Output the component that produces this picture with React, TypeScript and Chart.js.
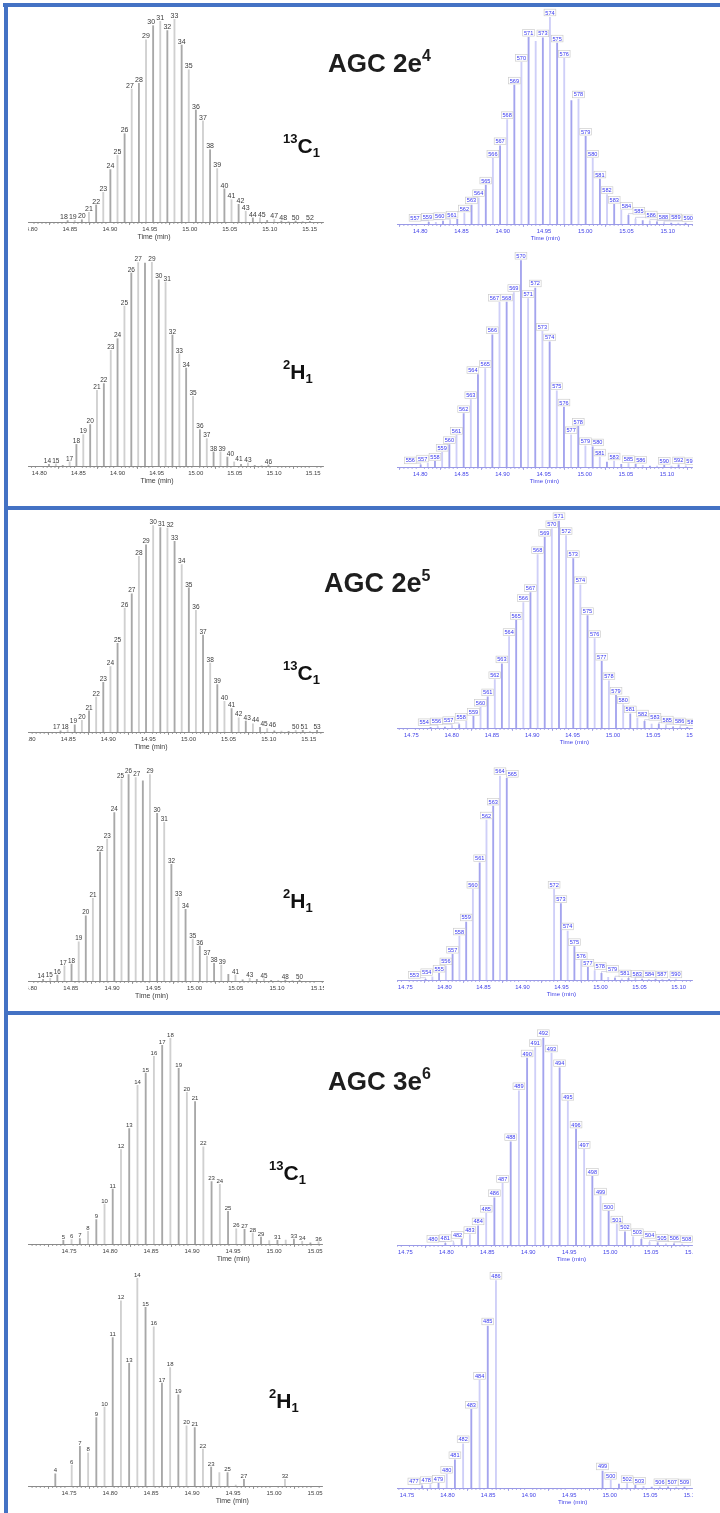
import React, { useEffect, useRef } from 'react';
import { Chart, registerables } from 'chart.js';

Chart.register(...registerables);

const FONT = '"Liberation Sans", Arial, Helvetica, sans-serif';
Chart.defaults.font.family = FONT;

// ---------------- DATA ----------------
// AGC 2e4, 13C1 (left)
const p1Scans = [18,19,20,21,22,23,24,25,26,27,28,29,30,31,32,33,34,35,36,37,38,39,40,41,42,43,44,45,46,47,48,49,50,51,52];
const p1Times = [14.8471,14.8560,14.8649,14.8738,14.8828,14.8917,14.9006,14.9095,14.9184,14.9273,14.9363,14.9452,14.9541,14.9630,14.9719,14.9808,14.9898,14.9987,15.0076,15.0165,15.0254,15.0343,15.0433,15.0522,15.0611,15.0700,15.0789,15.0878,15.0968,15.1057,15.1146,15.1235,15.1324,15.1413,15.1503];
const p1Abund = [0.7,0.8,1.1,4.8,8.4,14.6,25.8,32.8,43.5,65.5,68.3,89.8,96.7,98.9,94.3,100,87.2,75.0,55.2,49.8,35.6,26.3,16.3,11.0,8.7,5.3,2.0,2.0,0.8,1.3,0.5,0.3,0.5,0.3,0.3];
const p1Hidden = [46,49,51];
const p1Ticks = [14.80,14.85,14.90,14.95,15.00,15.05,15.10,15.15];

// AGC 2e4, 13C1 (right)
const p2Scans = [557,558,559,560,561,562,563,564,565,566,567,568,569,570,571,572,573,574,575,576,577,578,579,580,581,582,583,584,585,586,587,588,589,590,591,592,593];
const p2Times = [14.8102,14.8188,14.8275,14.8361,14.8448,14.8534,14.8621,14.8707,14.8794,14.8880,14.8967,14.9053,14.9140,14.9226,14.9313,14.9399,14.9486,14.9572,14.9659,14.9745,14.9832,14.9918,15.0005,15.0091,15.0178,15.0264,15.0351,15.0437,15.0524,15.0610,15.0697,15.0783,15.0870,15.0956,15.1043,15.1129,15.1216];
const p2Abund = [0.8,0.8,1.3,1.6,2.3,5.3,9.2,12.7,18.8,31.7,37.8,50.4,67.1,78.1,90.2,88.2,89.9,100,87.4,80.0,59.6,60.4,42.4,31.7,21.7,14.2,9.5,6.6,4.2,2.4,1.6,1.3,1.0,0.6,0.5,0.5,0.5];
const p2Hidden = [558,572,577,587,591,592,593];
const p2Ticks = [14.80,14.85,14.90,14.95,15.00,15.05,15.10];

// AGC 2e4, 2H1 (left)
const p3Scans = [14,15,16,17,18,19,20,21,22,23,24,25,26,27,28,29,30,31,32,33,34,35,36,37,38,39,40,41,42,43,44,45,46];
const p3Times = [14.8123,14.8211,14.8299,14.8387,14.8474,14.8562,14.8650,14.8737,14.8825,14.8913,14.9000,14.9088,14.9176,14.9264,14.9351,14.9439,14.9527,14.9614,14.9702,14.9790,14.9877,14.9965,15.0053,15.0141,15.0228,15.0316,15.0404,15.0491,15.0579,15.0667,15.0754,15.0842,15.0930];
const p3Abund = [0.8,1.0,0.3,2.0,10.6,15.4,20.3,37.1,40.4,56.7,62.4,78.4,94.6,99.7,99.5,100,91.3,90.2,64.2,54.9,48.0,34.2,17.8,13.4,6.9,6.9,4.4,2.0,0.8,1.5,0.3,0.3,0.5];
const p3Hidden = [16,28,42,44,45];
const p3Ticks = [14.80,14.85,14.90,14.95,15.00,15.05,15.10,15.15];

// AGC 2e4, 2H1 (right)
const p4Scans = [556,557,558,559,560,561,562,563,564,565,566,567,568,569,570,571,572,573,574,575,576,577,578,579,580,581,582,583,584,585,586,587,588,589,590,591,592,593];
const p4Times = [14.8004,14.8091,14.8178,14.8265,14.8353,14.8440,14.8527,14.8614,14.8701,14.8789,14.8876,14.8963,14.9050,14.9137,14.9224,14.9311,14.9398,14.9485,14.9573,14.9660,14.9747,14.9834,14.9921,15.0008,15.0096,15.0183,15.0270,15.0357,15.0444,15.0532,15.0619,15.0706,15.0793,15.0880,15.0967,15.1055,15.1142,15.1229];
const p4Abund = [1.0,1.9,2.7,7.1,10.8,15.3,25.8,32.6,44.7,47.6,64.0,79.7,79.8,84.4,100,81.5,86.6,65.6,60.5,36.9,29.0,15.6,19.7,10.3,9.7,4.8,2.4,2.9,1.3,1.6,1.3,0.8,0.5,0.5,0.8,0.5,1.0,0.6];
const p4Hidden = [582,584,587,588,589,591];
const p4Ticks = [14.80,14.85,14.90,14.95,15.00,15.05,15.10];

// AGC 2e5, 13C1 (left)
const p5Scans = [17,18,19,20,21,22,23,24,25,26,27,28,29,30,31,32,33,34,35,36,37,38,39,40,41,42,43,44,45,46,47,48,49,50,51,52,53];
const p5Times = [14.8404,14.8493,14.8581,14.8670,14.8759,14.8848,14.8937,14.9026,14.9115,14.9204,14.9292,14.9381,14.9470,14.9559,14.9648,14.9737,14.9826,14.9915,15.0004,15.0092,15.0181,15.0270,15.0359,15.0448,15.0537,15.0626,15.0714,15.0803,15.0892,15.0981,15.1070,15.1159,15.1248,15.1337,15.1425,15.1514,15.1603];
const p5Abund = [0.6,1.0,3.5,5.6,10.2,16.9,24.0,31.6,42.9,60.0,66.9,85.0,90.6,100,98.9,98.7,92.3,81.0,69.7,58.9,46.9,33.4,22.9,14.8,11.3,6.9,5.3,4.0,2.3,1.6,0.6,0.5,0.3,0.8,0.8,0.3,0.8];
const p5Hidden = [47,48,49,52];
const p5Ticks = [14.80,14.85,14.90,14.95,15.00,15.05,15.10,15.15];

// AGC 2e5, 13C1 (right)
const p6Scans = [553,554,555,556,557,558,559,560,561,562,563,564,565,566,567,568,569,570,571,572,573,574,575,576,577,578,579,580,581,582,583,584,585,586,587,588,589];
const p6Times = [14.7739,14.7828,14.7916,14.8005,14.8093,14.8181,14.8270,14.8358,14.8447,14.8535,14.8623,14.8712,14.8800,14.8889,14.8977,14.9066,14.9154,14.9242,14.9331,14.9419,14.9508,14.9596,14.9685,14.9773,14.9861,14.9950,15.0038,15.0127,15.0215,15.0303,15.0392,15.0480,15.0569,15.0657,15.0746,15.0834,15.0922];
const p6Abund = [0.3,0.6,0.5,1.0,1.6,3.2,5.6,10.0,15.0,23.3,30.9,44.1,51.9,60.5,65.3,83.6,92.0,96.1,100,92.8,81.7,69.1,54.2,43.1,32.2,22.8,15.8,11.3,6.8,4.8,3.2,1.9,1.9,1.0,0.6,0.5,0.3];
const p6Hidden = [553,555,584,587,589];
const p6Ticks = [14.75,14.80,14.85,14.90,14.95,15.00,15.05,15.10];

// AGC 2e5, 2H1 (left)
const p7Scans = [14,15,16,17,18,19,20,21,22,23,24,25,26,27,28,29,30,31,32,33,34,35,36,37,38,39,40,41,42,43,44,45,46,47,48,49,50];
const p7Times = [14.8163,14.8249,14.8336,14.8422,14.8508,14.8595,14.8681,14.8767,14.8854,14.8940,14.9027,14.9114,14.9200,14.9286,14.9373,14.9459,14.9546,14.9632,14.9719,14.9805,14.9891,14.9978,15.0064,15.0151,15.0237,15.0324,15.0410,15.0496,15.0583,15.0669,15.0756,15.0842,15.0929,15.1015,15.1101,15.1188,15.1274];
const p7Abund = [0.8,1.3,2.9,7.3,8.2,19.0,31.5,40.0,62.4,68.7,81.5,97.7,100,98.4,96.8,100,81.1,76.8,56.5,40.5,34.7,20.3,16.9,12.1,8.5,7.7,3.2,2.9,0.6,1.3,0.8,1.0,0.3,0.3,0.5,0.3,0.5];
const p7Hidden = [28,40,42,44,46,47,49];
const p7Ticks = [14.80,14.85,14.90,14.95,15.00,15.05,15.10,15.15];

// AGC 2e5, 2H1 (right)
const p8Scans = [553,554,555,556,557,558,559,560,561,562,563,564,565,572,573,574,575,576,577,578,579,580,581,582,583,584,585,586,587,588,589,590];
const p8Times = [14.7759,14.7846,14.7932,14.8019,14.8105,14.8192,14.8279,14.8365,14.8452,14.8539,14.8625,14.8712,14.8799,14.9405,14.9492,14.9579,14.9665,14.9752,14.9838,14.9925,15.0012,15.0098,15.0185,15.0272,15.0358,15.0445,15.0532,15.0618,15.0705,15.0791,15.0878,15.0965];
const p8Abund = [0.3,1.6,3.3,6.9,12.6,21.5,28.4,44.4,57.4,78.3,85.1,100,98.7,44.4,37.4,24.0,16.3,9.5,6.2,4.6,3.3,1.3,1.0,0.6,0.8,0.6,0.5,0.3,0.5,0.3,0.3,0.5];
const p8Hidden = [580,582,585,586,588,589];
const p8Ticks = [14.75,14.80,14.85,14.90,14.95,15.00,15.05,15.10];

// AGC 3e6, 13C1 (left)
const p9Scans = [5,6,7,8,9,10,11,12,13,14,15,16,17,18,19,20,21,22,23,24,25,26,27,28,29,30,31,32,33,34,35,36];
const p9Times = [14.7431,14.7531,14.7632,14.7732,14.7833,14.7933,14.8033,14.8134,14.8234,14.8335,14.8435,14.8535,14.8636,14.8736,14.8837,14.8937,14.9037,14.9138,14.9238,14.9339,14.9439,14.9539,14.9640,14.9740,14.9841,14.9941,15.0041,15.0142,15.0242,15.0343,15.0443,15.0543];
const p9Abund = [1.8,2.1,2.6,6.1,11.8,19.4,26.7,45.8,56.0,77.0,83.0,91.1,96.4,100,85.3,73.6,69.1,47.2,30.3,29.0,15.9,7.4,7.1,5.3,3.4,1.6,1.8,1.9,2.4,1.3,0.6,1.0];
const p9Hidden = [30,32,35];
const p9Ticks = [14.75,14.80,14.85,14.90,14.95,15.00,15.05];

// AGC 3e6, 13C1 (right)
const p10Scans = [480,481,482,483,484,485,486,487,488,489,490,491,492,493,494,495,496,497,498,499,500,501,502,503,504,505,506,507,508,509];
const p10Times = [14.7988,14.8088,14.8187,14.8287,14.8387,14.8486,14.8586,14.8686,14.8785,14.8885,14.8985,14.9084,14.9183,14.9283,14.9382,14.9482,14.9582,14.9681,14.9781,14.9881,14.9980,15.0080,15.0179,15.0279,15.0379,15.0478,15.0578,15.0678,15.0777,15.0877];
const p10Abund = [0.8,1.1,2.7,5.0,9.2,15.3,22.8,29.7,49.8,74.4,90.2,95.2,100,92.6,85.5,69.3,55.9,46.1,33.1,23.6,16.2,10.1,6.4,4.0,2.7,1.3,1.0,0.6,0.6,0.5];
const p10Hidden = [507,509];
const p10Ticks = [14.75,14.80,14.85,14.90,14.95,15.00,15.05,15.10];

// AGC 3e6, 2H1 (left)
const p11Scans = [4,6,7,8,9,10,11,12,13,14,15,16,17,18,19,20,21,22,23,24,25,26,27,32];
const p11Times = [14.7333,14.7533,14.7633,14.7733,14.7833,14.7933,14.8033,14.8133,14.8233,14.8333,14.8433,14.8533,14.8633,14.8733,14.8833,14.8933,14.9033,14.9133,14.9233,14.9333,14.9433,14.9533,14.9633,15.0133];
const p11Abund = [5.9,10.1,19.1,16.0,32.9,38.0,71.3,89.0,59.0,100,85.9,76.5,49.5,56.9,43.8,28.9,28.1,17.8,9.1,6.4,6.4,0.5,3.2,3.2];
const p11Hidden = [24,26];
const p11Ticks = [14.75,14.80,14.85,14.90,14.95,15.00,15.05];

// AGC 3e6, 2H1 (right)
const p12Scans = [477,478,479,480,481,482,483,484,485,486,499,500,501,502,503,504,505,506,507,508,509];
const p12Times = [14.7687,14.7788,14.7889,14.7990,14.8091,14.8192,14.8293,14.8395,14.8496,14.8597,14.9911,15.0012,15.0113,15.0214,15.0315,15.0416,15.0517,15.0618,15.0719,15.0820,15.0921];
const p12Abund = [1.0,1.6,2.2,6.6,13.6,21.3,37.9,51.8,78.0,100,8.2,3.7,1.9,2.1,1.3,0.8,0.5,0.6,0.6,0.5,0.5];
const p12Hidden = [501,504,505,508];
const p12Ticks = [14.75,14.80,14.85,14.90,14.95,15.00,15.05,15.10];

// ---------------- LAYOUT / STYLE ----------------
type Geom = { left: number; right: number; axisY: number; topY: number; xMin: number; xMax: number; titleX: number };
type PanelDef = {
  scans: number[]; times: number[]; abund: number[]; hidden: number[]; ticks: number[];
  g: Geom; side: 'L' | 'R'; labelSize: number;
};

const PANELS: PanelDef[] = [
  { scans: p1Scans, times: p1Times, abund: p1Abund, hidden: p1Hidden, ticks: p1Ticks, side: 'L', labelSize: 7,
    g: { left: 28, right: 323, axisY: 222.3, topY: 19.3, xMin: 14.7975, xMax: 15.1667, titleX: 154 } },
  { scans: p2Scans, times: p2Times, abund: p2Abund, hidden: p2Hidden, ticks: p2Ticks, side: 'R', labelSize: 5.6,
    g: { left: 396.7, right: 692.3, axisY: 224.3, topY: 17.3, xMin: 14.7717, xMax: 15.1302, titleX: 545 } },
  { scans: p3Scans, times: p3Times, abund: p3Abund, hidden: p3Hidden, ticks: p3Ticks, side: 'L', labelSize: 6.5,
    g: { left: 28, right: 323, axisY: 465.7, topY: 261.7, xMin: 14.7855, xMax: 15.1627, titleX: 157 } },
  { scans: p4Scans, times: p4Times, abund: p4Abund, hidden: p4Hidden, ticks: p4Ticks, side: 'R', labelSize: 5.6,
    g: { left: 396.7, right: 692.3, axisY: 467.3, topY: 260.6, xMin: 14.7716, xMax: 15.1312, titleX: 544 } },
  { scans: p5Scans, times: p5Times, abund: p5Abund, hidden: p5Hidden, ticks: p5Ticks, side: 'L', labelSize: 6.5,
    g: { left: 28, right: 323, axisY: 731.7, topY: 525, xMin: 14.7998, xMax: 15.1677, titleX: 151 } },
  { scans: p6Scans, times: p6Times, abund: p6Abund, hidden: p6Hidden, ticks: p6Ticks, side: 'R', labelSize: 5.6,
    g: { left: 396.7, right: 692.3, axisY: 728.3, topY: 521, xMin: 14.7322, xMax: 15.0988, titleX: 574 } },
  { scans: p7Scans, times: p7Times, abund: p7Abund, hidden: p7Hidden, ticks: p7Ticks, side: 'L', labelSize: 6.3,
    g: { left: 28, right: 323, axisY: 981, topY: 774.3, xMin: 14.798, xMax: 15.1558, titleX: 151.7 } },
  { scans: p8Scans, times: p8Times, abund: p8Abund, hidden: p8Hidden, ticks: p8Ticks, side: 'R', labelSize: 5.6,
    g: { left: 396.7, right: 692.3, axisY: 980, topY: 775.7, xMin: 14.7393, xMax: 15.1179, titleX: 561 } },
  { scans: p9Scans, times: p9Times, abund: p9Abund, hidden: p9Hidden, ticks: p9Ticks, side: 'L', labelSize: 6,
    g: { left: 28, right: 322.7, axisY: 1244.3, topY: 1038.3, xMin: 14.70, xMax: 15.0593, titleX: 233.3 } },
  { scans: p10Scans, times: p10Times, abund: p10Abund, hidden: p10Hidden, ticks: p10Ticks, side: 'R', labelSize: 5.6,
    g: { left: 396.7, right: 692.3, axisY: 1245, topY: 1037.7, xMin: 14.7398, xMax: 15.1004, titleX: 571 } },
  { scans: p11Scans, times: p11Times, abund: p11Abund, hidden: p11Hidden, ticks: p11Ticks, side: 'L', labelSize: 6,
    g: { left: 28, right: 322.7, axisY: 1485.7, topY: 1277.7, xMin: 14.70, xMax: 15.0593, titleX: 232.3 } },
  { scans: p12Scans, times: p12Times, abund: p12Abund, hidden: p12Hidden, ticks: p12Ticks, side: 'R', labelSize: 5.6,
    g: { left: 396.7, right: 692.3, axisY: 1487.7, topY: 1280, xMin: 14.7377, xMax: 15.1021, titleX: 572.3 } },
];

const STYLE = {
  L: { barA: '#a8a8a8', barB: '#d0d0d0', axis: '#8a8a8a', tick: '#404040', label: '#3a3a3a', title: '#404040', tickFont: 6, titleFont: 7 },
  R: { barA: '#a4a4ee', barB: '#cfcff8', axis: '#9a9ae6', tick: '#4545e8', label: '#3838f0', title: '#4545e8', tickFont: 5.8, titleFont: 6.2 },
};

const PADL = 30;
const PADT = 14;
const AXH = 22;

function Panel({ def }: { def: PanelDef }) {
  const ref = useRef<HTMLCanvasElement | null>(null);
  const g = def.g;
  const st = STYLE[def.side];
  const plotW = g.right - g.left;
  const plotH = g.axisY - g.topY;
  const cw = Math.ceil(plotW + PADL + 30);
  const ch = Math.ceil(plotH + PADT + AXH);
  const padR = cw - PADL - plotW;
  const padT = ch - AXH - plotH;
  const canvasTop = g.topY - padT;

  useEffect(() => {
    if (!ref.current) return;
    const labelPlugin = {
      id: 'scanLabels',
      afterDatasetsDraw(chart: any) {
        const ctx = chart.ctx;
        const meta = chart.getDatasetMeta(0);
        const n = def.scans.length;
        let peak = 0;
        for (let i = 1; i < n; i++) if (def.abund[i] > def.abund[peak]) peak = i;
        const order: number[] = [peak];
        for (let i = peak - 1; i >= 0; i--) order.push(i);
        for (let i = peak + 1; i < n; i++) order.push(i);
        const boxed = def.side === 'R';
        ctx.save();
        ctx.font = `${def.labelSize}px ${FONT}`;
        ctx.textAlign = 'center';
        ctx.textBaseline = 'alphabetic';
        const placed: { l: number; r: number; t: number; b: number }[] = [];
        for (const i of order) {
          if (def.hidden.includes(def.scans[i])) continue;
          const el = meta.data[i];
          if (!el) continue;
          const bx = el.x;
          const by = el.y;
          const txt = String(def.scans[i]);
          const tw = ctx.measureText(txt).width;
          const w = tw + (boxed ? 2.4 : 0.6);
          const digitH = def.labelSize * 0.72;
          const h = digitH + (boxed ? 2.6 : 0.8);
          const bottom = by - (boxed ? 1.2 : 1.0);
          const top = bottom - h;
          let cx = bx;
          const dir = i < peak ? -1 : 1;
          for (let k = 0; k < 60; k++) {
            const hit = placed.find(p => cx - w / 2 < p.r && cx + w / 2 > p.l && top < p.b && bottom > p.t);
            if (!hit) break;
            cx = dir < 0 ? hit.l - 0.6 - w / 2 : hit.r + 0.6 + w / 2;
          }
          placed.push({ l: cx - w / 2, r: cx + w / 2, t: top, b: bottom });
          if (boxed) {
            if (Math.abs(cx - bx) > w / 2 + 0.5) {
              ctx.strokeStyle = '#b8b8d8';
              ctx.lineWidth = 0.6;
              ctx.beginPath();
              const ex = cx < bx ? cx + w / 2 : cx - w / 2;
              ctx.moveTo(ex, bottom - 0.5);
              ctx.lineTo(bx, bottom - 0.5);
              ctx.lineTo(bx, by);
              ctx.stroke();
            }
            ctx.fillStyle = '#ffffff';
            ctx.fillRect(cx - w / 2, top, w, h);
            ctx.strokeStyle = '#c6c6c6';
            ctx.lineWidth = 0.6;
            ctx.strokeRect(cx - w / 2, top, w, h);
            ctx.fillStyle = st.label;
            ctx.fillText(txt, cx, bottom - 1.3);
          } else {
            ctx.fillStyle = st.label;
            ctx.fillText(txt, cx, bottom - 0.4);
          }
        }
        ctx.restore();
      },
    };
    const axisExtras = {
      id: 'axisExtras',
      afterDraw(chart: any) {
        const ctx = chart.ctx;
        const s = chart.scales.x;
        const y0 = chart.chartArea.bottom;
        ctx.save();
        ctx.strokeStyle = st.axis;
        ctx.lineWidth = 0.8;
        ctx.beginPath();
        const k0 = Math.ceil(g.xMin / 0.005 - 1e-6);
        for (let k = k0; k * 0.005 <= g.xMax + 1e-9; k++) {
          if (k % 10 === 0) continue;
          const px = s.getPixelForValue(k * 0.005);
          ctx.moveTo(px, y0);
          ctx.lineTo(px, y0 + 2);
        }
        ctx.stroke();
        ctx.fillStyle = st.title;
        ctx.font = `${st.titleFont}px ${FONT}`;
        ctx.textAlign = 'center';
        ctx.textBaseline = 'middle';
        ctx.fillText('Time (min)', g.titleX - g.left + PADL, y0 + 14.6);
        ctx.restore();
      },
    };
    const chart = new Chart(ref.current, {
      type: 'bar',
      data: {
        datasets: [
          {
            data: def.times.map((t, i) => ({ x: t, y: def.abund[i] })),
            backgroundColor: (c: any) => (c.dataIndex % 2 ? st.barB : st.barA),
            borderWidth: 0,
            barThickness: 1.2,
          } as any,
        ],
      },
      options: {
        responsive: false,
        animation: false,
        devicePixelRatio: 1,
        events: [],
        layout: { padding: { left: PADL, right: padR, top: padT, bottom: 0 } },
        plugins: { legend: { display: false }, tooltip: { enabled: false }, title: { display: false } },
        scales: {
          x: {
            type: 'linear',
            min: g.xMin,
            max: g.xMax,
            bounds: 'data',
            offset: false,
            afterBuildTicks: (s: any) => {
              s.ticks = def.ticks.map(v => ({ value: v }));
            },
            afterFit: (s: any) => {
              s.height = AXH;
            },
            grid: { drawOnChartArea: false, drawTicks: true, tickLength: 3, color: st.axis, lineWidth: 0.8 },
            border: { display: true, color: st.axis, width: 1 },
            ticks: {
              font: { family: FONT, size: st.tickFont },
              color: st.tick,
              padding: 1,
              maxRotation: 0,
              minRotation: 0,
              autoSkip: false,
              callback: (v: any) => Number(v).toFixed(2),
            },
            title: { display: false },
          } as any,
          y: { display: false, min: 0, max: 100 },
        },
      },
      plugins: [labelPlugin, axisExtras],
    });
    return () => chart.destroy();
  }, []);

  return (
    <div
      style={{
        position: 'absolute',
        left: g.left,
        top: canvasTop,
        width: plotW + 0.6,
        height: ch,
        overflow: 'hidden',
      }}
    >
      <canvas
        ref={ref}
        width={cw}
        height={ch}
        style={{ position: 'absolute', left: -PADL, top: 0, width: cw, height: ch }}
      />
    </div>
  );
}

function Agc({ left, base, size, text, sup }: { left: number; base: number; size: number; text: string; sup: string }) {
  return (
    <div
      style={{
        position: 'absolute',
        left,
        top: base - 0.8465 * size,
        fontFamily: FONT,
        fontWeight: 700,
        fontSize: size,
        lineHeight: `${size}px`,
        color: '#1e1e1e',
        whiteSpace: 'nowrap',
      }}
    >
      {text}
      <span style={{ fontSize: 16, position: 'relative', top: -11 }}>{sup}</span>
    </div>
  );
}

function Iso({ left, base, sup, main, sub }: { left: number; base: number; sup: string; main: string; sub: string }) {
  const size = 21;
  return (
    <div
      style={{
        position: 'absolute',
        left,
        top: base - 0.8465 * size,
        fontFamily: FONT,
        fontWeight: 700,
        fontSize: size,
        lineHeight: `${size}px`,
        color: '#111111',
        whiteSpace: 'nowrap',
      }}
    >
      <span style={{ fontSize: 13, position: 'relative', top: -10 }}>{sup}</span>
      {main}
      <span style={{ fontSize: 13, position: 'relative', top: 4 }}>{sub}</span>
    </div>
  );
}

const BLUE = '#4472c4';

export default function App() {
  const bar = (l: number, t: number, w: number, h: number) => (
    <div style={{ position: 'absolute', left: l, top: t, width: w, height: h, background: BLUE }} />
  );
  return (
    <div
      style={{
        position: 'absolute',
        left: 0,
        top: 0,
        width: 720,
        height: 1513,
        background: '#ffffff',
        overflow: 'hidden',
      }}
    >
      {PANELS.map((p, i) => (
        <Panel key={i} def={p} />
      ))}
      {bar(3, 3, 717, 4)}
      {bar(4, 3, 4, 1510)}
      {bar(4, 506, 716, 4)}
      {bar(4, 1011, 716, 4)}
      <Agc left={328} base={72} size={26} text="AGC 2e" sup="4" />
      <Agc left={324} base={593} size={27} text="AGC 2e" sup="5" />
      <Agc left={328} base={1090} size={26} text="AGC 3e" sup="6" />
      <Iso left={283} base={153} sup="13" main="C" sub="1" />
      <Iso left={283} base={379} sup="2" main="H" sub="1" />
      <Iso left={283} base={680} sup="13" main="C" sub="1" />
      <Iso left={283} base={908} sup="2" main="H" sub="1" />
      <Iso left={269} base={1180} sup="13" main="C" sub="1" />
      <Iso left={269} base={1408} sup="2" main="H" sub="1" />
    </div>
  );
}
